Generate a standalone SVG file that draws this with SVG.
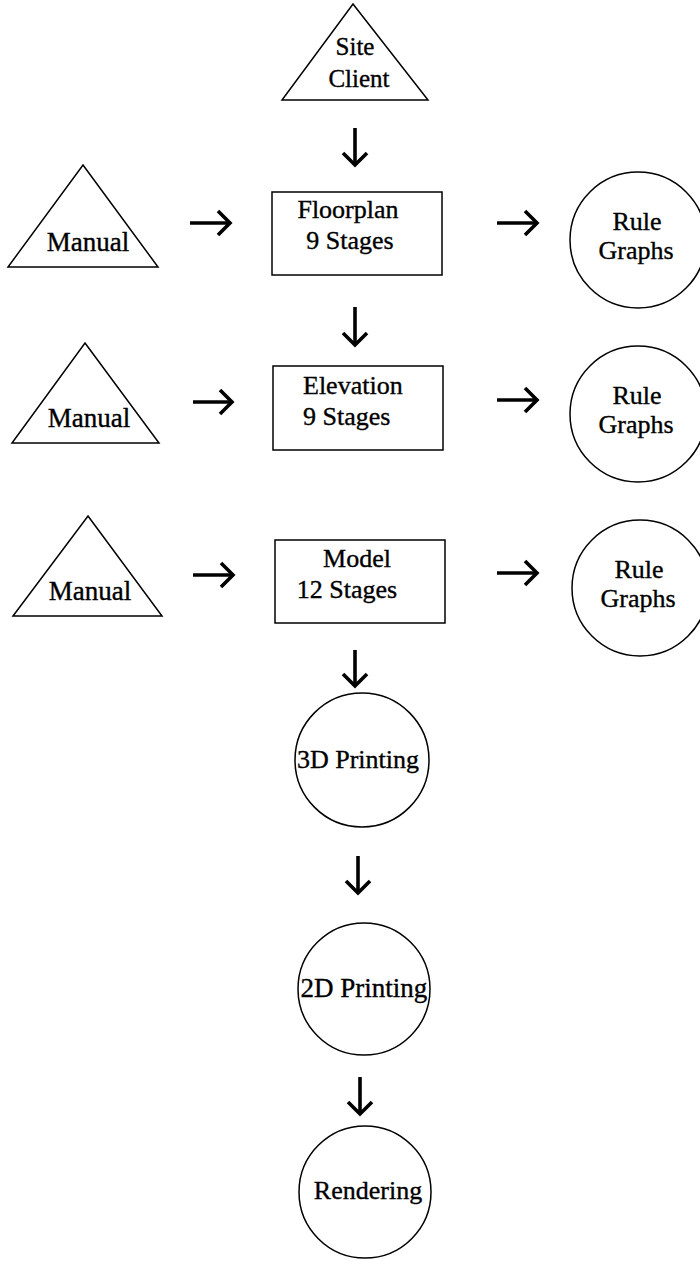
<svg xmlns="http://www.w3.org/2000/svg" width="700" height="1264" viewBox="0 0 700 1264">
  <style>
    .shape { fill: #fff; stroke: #000; stroke-width: 1.5; }
    .label { font-family: "Liberation Serif", "Times New Roman", serif; font-size: 26px; fill: #000; stroke: #000; stroke-width: 0.35; }
    .mid { text-anchor: middle; }
    .arrow { fill: none; stroke: #000; stroke-width: 3.6; marker-end: url(#head); }
  </style>
  <defs>
    <marker id="head" markerUnits="userSpaceOnUse" markerWidth="30" markerHeight="30" refX="14" refY="14" orient="auto">
      <path d="M2,2 L14,14 L2,26" fill="none" stroke="#000" stroke-width="3.6"/>
    </marker>
  </defs>

  <!-- inputs -->
  <g id="site-client">
    <polygon class="shape" points="353,4 428,100 282,100"/>
    <text class="label mid" x="355" y="55" style="font-size:25px">Site</text>
    <text class="label mid" x="359" y="87" style="font-size:25px">Client</text>
  </g>
  <g id="manual-1">
    <polygon class="shape" points="83,165 158,267 8,267"/>
    <text class="label mid" x="88" y="251" style="font-size:27px">Manual</text>
  </g>
  <g id="manual-2">
    <polygon class="shape" points="85,343 159,443 12,443"/>
    <text class="label mid" x="89" y="427" style="font-size:27px">Manual</text>
  </g>
  <g id="manual-3">
    <polygon class="shape" points="88,516 162,616 13,616"/>
    <text class="label mid" x="90" y="600" style="font-size:27px">Manual</text>
  </g>

  <!-- stages -->
  <g id="floorplan">
    <rect class="shape" x="272" y="192" width="170" height="83"/>
    <text class="label mid" x="348" y="218">Floorplan</text>
    <text class="label mid" x="350" y="249">9 Stages</text>
  </g>
  <g id="elevation">
    <rect class="shape" x="273" y="366" width="170" height="84"/>
    <text class="label" x="303" y="394">Elevation</text>
    <text class="label" x="303" y="425">9 Stages</text>
  </g>
  <g id="model">
    <rect class="shape" x="275" y="540" width="170" height="83"/>
    <text class="label mid" x="357" y="567">Model</text>
    <text class="label mid" x="347" y="598">12 Stages</text>
  </g>

  <!-- rule graphs -->
  <g id="rule-graphs-1">
    <circle class="shape" cx="638" cy="240" r="68"/>
    <text class="label mid" x="637" y="230">Rule</text>
    <text class="label mid" x="636" y="259">Graphs</text>
  </g>
  <g id="rule-graphs-2">
    <circle class="shape" cx="638" cy="414" r="68"/>
    <text class="label mid" x="637" y="404">Rule</text>
    <text class="label mid" x="636" y="433">Graphs</text>
  </g>
  <g id="rule-graphs-3">
    <circle class="shape" cx="640" cy="588" r="68"/>
    <text class="label mid" x="639" y="578">Rule</text>
    <text class="label mid" x="638" y="607">Graphs</text>
  </g>

  <!-- outputs -->
  <g id="printing-3d">
    <circle class="shape" cx="362" cy="760" r="67"/>
    <text class="label mid" x="358" y="768">3D Printing</text>
  </g>
  <g id="printing-2d">
    <circle class="shape" cx="364" cy="989" r="66"/>
    <text class="label mid" x="364" y="997" style="font-size:27px">2D Printing</text>
  </g>
  <g id="rendering">
    <circle class="shape" cx="365" cy="1192" r="66"/>
    <text class="label mid" x="368" y="1199">Rendering</text>
  </g>

  <!-- connectors -->
  <g id="connectors">
    <path class="arrow" d="M355,128 V165"/>
    <path class="arrow" d="M355,307 V345"/>
    <path class="arrow" d="M355,650 V686"/>
    <path class="arrow" d="M358,856 V893"/>
    <path class="arrow" d="M360,1077 V1114"/>
    <path class="arrow" d="M190,223 H230"/>
    <path class="arrow" d="M193,402 H232"/>
    <path class="arrow" d="M193,575 H233"/>
    <path class="arrow" d="M497,223 H537"/>
    <path class="arrow" d="M497,400 H537"/>
    <path class="arrow" d="M497,573 H537"/>
  </g>
</svg>
